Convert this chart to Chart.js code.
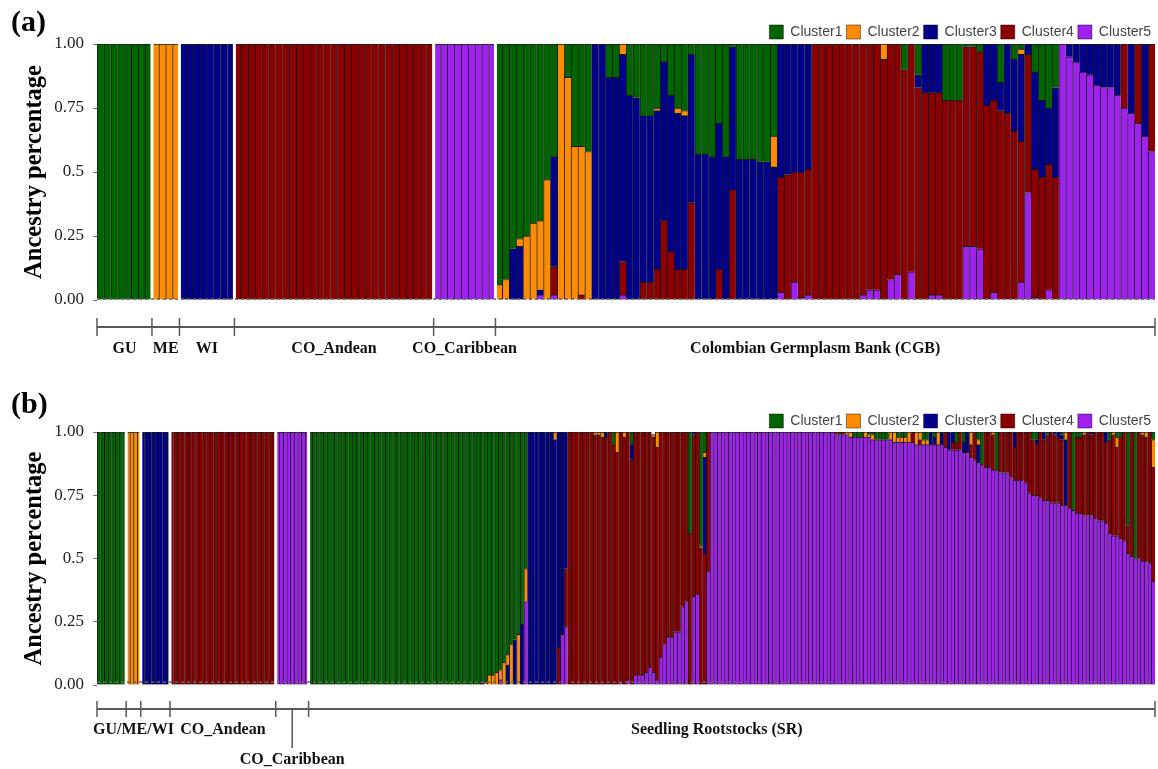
<!DOCTYPE html>
<html><head><meta charset="utf-8">
<script src="https://cdn.jsdelivr.net/npm/chart.js@4.4.0/dist/chart.umd.min.js"></script>
<style>
html,body{margin:0;padding:0;background:#fff;width:1158px;height:769px;overflow:hidden}
#wa{position:absolute;left:0;top:0;width:1158px;height:378px}
#wb{position:absolute;left:0;top:378px;width:1158px;height:391px}
</style></head><body>
<div id="wa"><canvas id="ca" width="1158" height="378"></canvas></div>
<div id="wb"><canvas id="cb" width="1158" height="391"></canvas></div>
<script>
// ---------------- DATA ----------------
const CLUSTER_NAMES = ['Cluster1','Cluster2','Cluster3','Cluster4','Cluster5'];
const CLUSTER_COLORS = ['#006400','#FF8C00','#00008B','#8B0000','#A020F0'];
const Y_TICK_VALUES = [0, 25, 50, 75, 100];
const Y_TICK_LABELS = ['0.00', '0.25', '0.5', '0.75', '1.00'];

const A_GROUP_NAMES = ['GU','ME','WI','CO_Andean','CO_Caribbean','Colombian Germplasm Bank (CGB)'];
const A_GROUP_SIZES = [8, 4, 8, 29, 9, 96];
const B_GROUP_NAMES = ['GU','ME','WI','CO_Andean','CO_Caribbean','Seedling Rootstocks (SR)'];
const B_GROUP_SIZES = [8, 4, 8, 29, 9, 232];
const B_BRACKET_LABELS = ['GU/ME/WI','CO_Andean','CO_Caribbean','Seedling Rootstocks (SR)'];
const B_BRACKET_SPANS = [[0,2],[3,3],[4,4],[5,5]];

// reference groups (GU 8, ME 4, WI 8, CO_Andean 29, CO_Caribbean 9), ancestry in %
const REF_CLUSTER1 = [
 100,100,100,100,100,100,100,100,
 0,0,0,0,
 0,0,0,0,0,0,0,0,
 0,0,0,0,0,0,0,0,0,0, 0,0,0,0,0,0,0,0,0,0, 0,0,0,0,0,0,0,0,0,
 0,0,0,0,0,0,0,0,0];
const REF_CLUSTER2 = [
 0,0,0,0,0,0,0,0,
 100,100,100,100,
 0,0,0,0,0,0,0,0,
 0,0,0,0,0,0,0,0,0,0, 0,0,0,0,0,0,0,0,0,0, 0,0,0,0,0,0,0,0,0,
 0,0,0,0,0,0,0,0,0];
const REF_CLUSTER3 = [
 0,0,0,0,0,0,0,0,
 0,0,0,0,
 100,100,100,100,100,100,100,100,
 0,0,0,0,0,0,0,0,0,0, 0,0,0,0,0,0,0,0,0,0, 0,0,0,0,0,0,0,0,0,
 0,0,0,0,0,0,0,0,0];
const REF_CLUSTER4 = [
 0,0,0,0,0,0,0,0,
 0,0,0,0,
 0,0,0,0,0,0,0,0,
 100,100,100,100,100,100,100,100,100,100, 100,100,100,100,100,100,100,100,100,100, 100,100,100,100,100,100,100,100,100,
 0,0,0,0,0,0,0,0,0];
const REF_CLUSTER5 = [
 0,0,0,0,0,0,0,0,
 0,0,0,0,
 0,0,0,0,0,0,0,0,
 0,0,0,0,0,0,0,0,0,0, 0,0,0,0,0,0,0,0,0,0, 0,0,0,0,0,0,0,0,0,
 100,100,100,100,100,100,100,100,100];

// Colombian Germplasm Bank (96 accessions)
const CGB_CLUSTER1 = [
 94,92,80,76,75,70,69,53,44,0,
 13,40,40,42,0,0,13,13,0,20,
 21,28,28,25,7,20,25,26,4,43,
 43,44,31,44,1,45,45,45,46,46,
 36,0,0,0,0,0,0,0,0,0,
 0,0,0,0,0,0,0,0,0,10,
 0,12,0,0,0,22,22,22,1,1,
 3,0,0,15,0,6,2,0,11,22,
 25,17,0,0,0,0,0,0,0,0,
 0,0,0,0,0,0];
const CGB_CLUSTER2 = [
 6,8,0,3,25,30,27,47,0,100,
 87,60,58,58,0,0,0,0,4,0,
 0,0,0,1,0,0,2,2,0,0,
 0,0,0,0,0,0,0,0,0,0,
 12,0,0,0,0,0,0,0,0,0,
 0,0,0,0,0,0,6,0,0,0,
 0,0,0,0,0,0,0,0,0,0,
 0,0,0,0,0,0,2,0,0,0,
 0,0,0,0,0,0,0,0,0,0,
 0,0,0,0,0,0];
const CGB_CLUSTER3 = [
 0,0,20,21,0,0,2,0,43,0,
 0,0,0,0,100,100,87,87,81,80,
 79,65,65,62,62,61,61,60,58,57,
 57,56,57,56,56,55,55,55,54,54,
 52,52,51,50,50,49,0,0,0,0,
 0,0,0,0,0,0,0,0,0,0,
 0,5,19,19,19,0,0,0,0,0,
 0,24,22,11,27,28,34,4,38,30,
 22,35,0,5,7,11,12,16,17,17,
 20,0,27,0,36,0];
const CGB_CLUSTER4 = [
 0,0,0,0,0,0,0,0,11,0,
 0,0,2,0,0,0,0,0,13,0,
 0,7,7,12,31,19,12,12,38,0,
 0,0,12,0,43,0,0,0,0,0,
 0,45,49,43,49,49,100,100,100,100,
 100,100,100,98,96,96,94,92,90,90,
 89,83,81,79,79,78,78,78,78,78,
 77,76,75,74,73,66,55,54,50,48,
 49,48,0,0,0,0,0,0,0,0,
 0,25,0,31,0,42];
const CGB_CLUSTER5 = [
 0,0,0,0,0,0,2,0,2,0,
 0,0,0,0,0,0,0,0,2,0,
 0,0,0,0,0,0,0,0,0,0,
 0,0,0,0,0,0,0,0,0,0,
 0,3,0,7,1,2,0,0,0,0,
 0,0,0,2,4,4,0,8,10,0,
 11,0,0,2,2,0,0,0,21,21,
 20,0,3,0,0,0,7,42,1,0,
 4,0,100,95,93,89,88,84,83,83,
 80,75,73,69,64,58];

// Seedling Rootstocks (232 individuals)
const SR_CLUSTER1 = [
 100,100,100,100,100,100,100,100,100,100,
 100,100,100,100,100,100,100,100,100,100,
 100,100,100,100,100,100,100,100,100,100,
 100,100,100,100,100,100,100,100,100,100,
 100,100,100,100,100,100,100,99,99,96,
 96,95,94,91,88,84,82,80,76,54,
 0,0,0,0,0,0,0,0,0,0,
 0,0,0,0,0,0,0,0,0,0,
 0,0,0,5,0,0,0,0,5,0,
 0,0,0,0,0,0,0,0,0,0,
 0,0,0,0,40,0,0,45,8,0,
 0,0,0,0,0,0,0,0,0,0,
 0,0,0,0,0,0,0,0,0,0,
 0,0,0,0,0,0,0,0,0,0,
 0,0,0,0,0,0,0,0,0,2,
 2,2,0,1,1,3,3,3,3,0,
 0,2,2,2,0,0,0,0,3,3,
 0,2,0,0,0,0,0,4,0,4,
 0,0,0,3,13,0,0,0,15,0,
 0,0,0,0,0,0,0,0,3,3,
 0,0,1,0,0,0,1,0,0,31,
 2,2,0,0,0,0,0,0,0,3,
 0,2,2,0,37,0,50,0,0,0,
 0,3];
const SR_CLUSTER2 = [
 0,0,0,0,0,0,0,0,0,0,
 0,0,0,0,0,0,0,0,0,0,
 0,0,0,0,0,0,0,0,0,0,
 0,0,0,0,0,0,0,0,0,0,
 0,0,0,0,0,0,0,0,1,4,
 4,5,4,9,4,16,0,20,0,13,
 0,0,0,0,0,0,0,3,0,0,
 0,0,0,0,0,0,0,0,1,1,
 2,0,0,0,8,0,2,0,0,0,
 0,0,0,0,1,6,0,0,0,0,
 0,0,0,0,0,0,0,1,2,0,
 0,0,0,0,0,0,0,0,0,0,
 0,0,0,0,0,0,0,0,0,0,
 0,0,0,0,0,0,0,0,0,0,
 0,0,0,0,0,0,0,1,2,0,
 0,0,2,1,2,0,0,0,0,3,
 4,2,2,2,4,0,5,3,2,2,
 0,0,5,0,0,0,0,0,0,0,
 0,5,0,2,0,0,0,1,0,0,
 0,0,0,0,0,0,0,0,0,0,
 0,0,0,0,0,0,0,3,0,0,
 0,0,1,0,0,0,0,0,0,0,
 1,4,0,0,0,0,0,0,1,2,
 0,11];
const SR_CLUSTER3 = [
 0,0,0,0,0,0,0,0,0,0,
 0,0,0,0,0,0,0,0,0,0,
 0,0,0,0,0,0,0,0,0,0,
 0,0,0,0,0,0,0,0,0,0,
 0,0,0,0,0,0,0,1,0,0,
 0,0,0,0,8,0,18,0,24,0,
 100,100,100,100,100,100,100,97,85,80,
 54,0,0,0,0,0,0,0,0,0,
 0,2,0,0,0,0,0,0,6,0,
 0,0,0,0,0,0,0,0,0,0,
 0,0,0,0,0,1,0,0,38,0,
 0,0,0,0,0,0,0,0,0,0,
 0,0,0,0,0,0,0,0,0,0,
 0,0,0,0,0,0,0,0,0,0,
 0,0,0,0,0,0,0,0,0,0,
 0,0,0,0,0,0,0,0,0,0,
 0,0,0,0,0,0,0,0,0,0,
 5,3,0,5,0,7,4,0,0,4,
 8,0,0,7,0,0,0,0,0,0,
 0,0,0,6,0,0,0,0,0,2,
 0,3,0,0,1,2,2,26,0,0,
 0,0,0,0,1,0,0,0,4,0,
 0,0,0,0,0,0,0,0,0,0,
 0,0];
const SR_CLUSTER4 = [
 0,0,0,0,0,0,0,0,0,0,
 0,0,0,0,0,0,0,0,0,0,
 0,0,0,0,0,0,0,0,0,0,
 0,0,0,0,0,0,0,0,0,0,
 0,0,0,0,0,0,0,0,0,0,
 0,0,0,0,0,0,0,0,0,0,
 0,0,0,0,0,0,0,0,15,0,
 23,100,100,100,100,100,100,100,99,99,
 98,98,100,95,92,99,98,98,89,96,
 96,96,95,93,93,92,89,84,81,81,
 79,79,69,67,60,64,64,54,52,55,
 0,0,0,0,0,0,0,0,0,0,
 0,0,0,0,0,0,0,0,0,0,
 0,0,0,0,0,0,0,0,0,0,
 0,0,0,0,1,1,1,0,0,0,
 0,0,0,0,0,0,0,0,0,0,
 0,0,0,0,0,4,0,2,0,0,
 0,0,0,0,6,0,3,3,7,0,
 0,5,11,0,0,14,14,14,0,16,
 16,16,18,13,19,19,20,24,22,20,
 26,24,26,28,27,26,26,0,30,0,
 30,30,32,33,32,34,35,35,32,37,
 40,35,40,43,11,49,0,50,50,49,
 52,45];
const SR_CLUSTER5 = [
 0,0,0,0,0,0,0,0,0,0,
 0,0,0,0,0,0,0,0,0,0,
 0,0,0,0,0,0,0,0,0,0,
 0,0,0,0,0,0,0,0,0,0,
 0,0,0,0,0,0,0,0,0,0,
 0,0,2,0,0,0,0,0,0,33,
 0,0,0,0,0,0,0,0,0,20,
 23,0,0,0,0,0,0,0,0,0,
 0,0,0,0,0,1,0,2,0,4,
 4,4,5,7,5,2,11,16,19,19,
 21,21,31,33,0,35,36,0,0,45,
 100,100,100,100,100,100,100,100,100,100,
 100,100,100,100,100,100,100,100,100,100,
 100,100,100,100,100,100,100,100,100,100,
 100,100,100,100,99,99,99,99,98,98,
 98,98,98,98,97,97,97,97,97,97,
 96,96,96,96,96,96,95,95,95,95,
 95,95,95,95,94,93,93,93,93,92,
 92,90,89,88,87,86,86,85,85,84,
 84,84,82,81,81,81,80,76,75,75,
 74,73,73,72,72,72,71,71,70,69,
 68,68,67,67,67,66,65,65,64,60,
 59,59,58,57,52,51,50,50,49,49,
 48,41];

// ---------------- BUILD ----------------
function buildLabels(names, sizes){
  const out = [];
  names.forEach((n, g) => { for (let i = 0; i < sizes[g]; i++) out.push(n + ' ' + (i + 1)); });
  return out;
}
function checkLen(arrs, n, tag){
  arrs.forEach((a, i) => { if (a.length !== n) throw new Error(tag + ' cluster' + (i+1) + ' length ' + a.length + ' != ' + n); });
}
const A_LABELS = buildLabels(A_GROUP_NAMES, A_GROUP_SIZES);
const B_LABELS = buildLabels(B_GROUP_NAMES, B_GROUP_SIZES);
const A_SERIES = [REF_CLUSTER1.concat(CGB_CLUSTER1), REF_CLUSTER2.concat(CGB_CLUSTER2), REF_CLUSTER3.concat(CGB_CLUSTER3), REF_CLUSTER4.concat(CGB_CLUSTER4), REF_CLUSTER5.concat(CGB_CLUSTER5)];
const B_SERIES = [REF_CLUSTER1.concat(SR_CLUSTER1), REF_CLUSTER2.concat(SR_CLUSTER2), REF_CLUSTER3.concat(SR_CLUSTER3), REF_CLUSTER4.concat(SR_CLUSTER4), REF_CLUSTER5.concat(SR_CLUSTER5)];
checkLen(A_SERIES, A_LABELS.length, 'A');
checkLen(B_SERIES, B_LABELS.length, 'B');

const SERIF = '"Liberation Serif", "Times New Roman", Times, serif';
const SANS = '"Liberation Sans", Arial, Helvetica, sans-serif';

function makeDatasets(series){
  const ds = [];
  for (let c = 4; c >= 0; c--) {   // Cluster5 at bottom ... Cluster1 on top
    ds.push({
      label: CLUSTER_NAMES[c], data: series[c],
      backgroundColor: CLUSTER_COLORS[c], borderColor: 'rgba(0,0,0,0.9)',
      borderWidth: {left: 1, top: 1, right: 0, bottom: 0}, borderSkipped: false,
      barPercentage: 1, categoryPercentage: 1, stack: 'k'
    });
  }
  return ds;
}

function edgesOf(xs, sizes){
  const n = xs.getLabels().length;
  const half = (xs.getPixelForValue(1) - xs.getPixelForValue(0)) / 2;
  const edges = [xs.getPixelForValue(0) - half];
  let k = 0;
  sizes.forEach(s => { k += s; edges.push(k < n ? xs.getPixelForValue(k) - half : xs.getPixelForValue(n - 1) + half); });
  return edges;
}

const decor = {
  id: 'decor',
  afterDatasetsDraw(chart, args, o){
    const {ctx, chartArea: {top, bottom, left, right}} = chart;
    const edges = edgesOf(chart.scales.x, o.sizes);
    ctx.save();
    ctx.fillStyle = '#ffffff';
    for (let i = 1; i < edges.length - 1; i++) ctx.fillRect(edges[i] - 1.5, top - 1, 3, bottom - top + 1);
    ctx.strokeStyle = '#666'; ctx.lineWidth = 1.5; ctx.setLineDash([3, 3]);
    const y0 = chart.scales.y.getPixelForValue(0) - o.baseLift;
    ctx.beginPath(); ctx.moveTo(left, y0); ctx.lineTo(right, y0); ctx.stroke();
    ctx.restore();
  },
  afterDraw(chart, args, o){
    const {ctx, chartArea} = chart;
    const edges = edgesOf(chart.scales.x, o.sizes);
    const yl = chartArea.bottom + o.lineGap;
    ctx.save();
    ctx.setLineDash([]);
    ctx.strokeStyle = '#595959'; ctx.lineWidth = 2.2;
    ctx.beginPath(); ctx.moveTo(edges[0], yl); ctx.lineTo(edges[edges.length - 1], yl); ctx.stroke();
    ctx.lineWidth = 1.5;
    edges.forEach(x => { ctx.beginPath(); ctx.moveTo(x, yl - o.tick); ctx.lineTo(x, yl + o.tick); ctx.stroke(); });
    ctx.fillStyle = '#111'; ctx.font = o.font; ctx.textAlign = 'center'; ctx.textBaseline = 'middle';
    o.labels.forEach((lab, i) => {
      const [g0, g1] = o.spans[i];
      const cx = (edges[g0] + edges[g1 + 1]) / 2;
      let ty = yl + o.labelGap;
      if (o.drop === i) {
        ctx.beginPath(); ctx.moveTo(cx, yl); ctx.lineTo(cx, yl + o.dropLen); ctx.stroke();
        ty = yl + o.dropLen + o.dropLabelGap;
      }
      ctx.fillText(lab, cx + ((o.shift && o.shift[i]) || 0), ty);
    });
    ctx.textAlign = 'left'; ctx.font = o.tagFont; ctx.fillStyle = '#000';
    ctx.fillText(o.tag, o.tagX, o.tagY);
    ctx.restore();
  }
};

function makeChart(id, labels, series, pad, legendH, decorOpts){
  return new Chart(document.getElementById(id), {
    type: 'bar',
    data: {labels: labels, datasets: makeDatasets(series)},
    plugins: [decor],
    options: {
      responsive: false, maintainAspectRatio: false, animation: false, events: [],
      layout: {padding: pad},
      scales: {
        x: {stacked: true, display: false, offset: true},
        y: {
          stacked: true, min: 0, max: 100,
          afterBuildTicks: s => { s.ticks = Y_TICK_VALUES.map(v => ({value: v})); },
          afterFit: s => { s.width = 97; },
          ticks: {
            callback: v => Y_TICK_LABELS[Y_TICK_VALUES.indexOf(v)],
            font: {family: SERIF, size: 17}, color: '#222', padding: 9
          },
          grid: {drawOnChartArea: false, drawTicks: true, tickLength: 4, color: '#777', lineWidth: 1},
          border: {display: false},
          title: {display: true, text: 'Ancestry percentage', color: '#000',
                  font: {family: SERIF, size: 24.5, weight: 'bold'}, padding: {top: 20, bottom: 0}}
        }
      },
      plugins: {
        tooltip: {enabled: false},
        legend: {
          position: 'top', align: 'end', reverse: true, maxHeight: legendH,
          labels: {boxWidth: 14, boxHeight: 14, padding: 4, color: '#444', font: {family: SANS, size: 14}}
        },
        decor: decorOpts
      }
    }
  });
}

makeChart('ca', A_LABELS, A_SERIES, {top: 21, bottom: 78, left: 0, right: 3}, 23, {
  sizes: A_GROUP_SIZES, labels: A_GROUP_NAMES, spans: A_GROUP_NAMES.map((_, i) => [i, i]),
  lineGap: 27, tick: 9, labelGap: 22, font: 'bold 16px ' + SERIF, baseLift: 1,
  shift: [0, 0, 0, 0, 0, -10],
  tag: '(a)', tagX: 11, tagY: 23, tagFont: 'bold 30px ' + SERIF
});
makeChart('cb', B_LABELS, B_SERIES, {top: 32, bottom: 84, left: 0, right: 3}, 22, {
  sizes: B_GROUP_SIZES, labels: B_BRACKET_LABELS, spans: B_BRACKET_SPANS,
  lineGap: 24, tick: 8, labelGap: 21, font: 'bold 16px ' + SERIF, baseLift: 3,
  drop: 2, dropLen: 39, dropLabelGap: 12, shift: [0, 0, 0, -15],
  tag: '(b)', tagX: 11, tagY: 27, tagFont: 'bold 30px ' + SERIF
});
</script></body></html>
